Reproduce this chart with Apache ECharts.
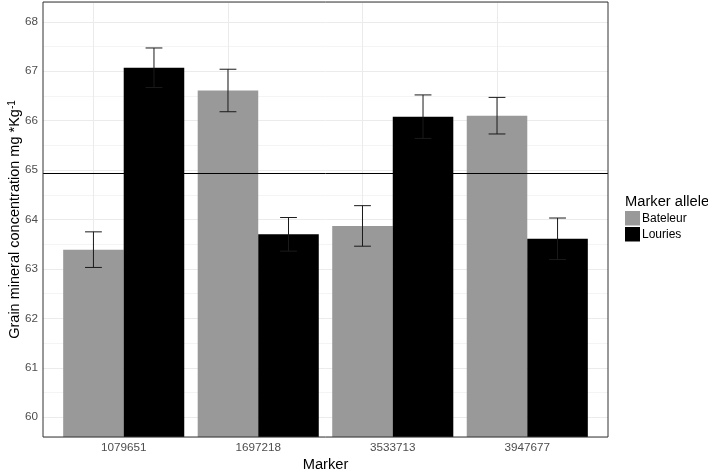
<!DOCTYPE html>
<html><head><meta charset="utf-8">
<script src="https://cdn.jsdelivr.net/npm/echarts@6/dist/echarts.min.js"></script>
<style>html,body{margin:0;padding:0;background:#fff}#c{width:708px;height:471px}</style>
</head><body><div id="c"></div>
<script>
// ---- data ----
const categories = ['1079651', '1697218', '3533713', '3947677'];
const seriesNames = ['Bateleur', 'Louries'];
const bateleurMean = [63.39, 66.61, 63.87, 66.10];
const louriesMean = [67.07, 63.70, 66.08, 63.61];
const bateleurSE = [0.36, 0.43, 0.41, 0.37];
const louriesSE = [0.40, 0.34, 0.44, 0.42];
const overallMean = 64.93;
const yRange = [59.6, 68.4];

// ---- layout / style ----
const FONT = '"Liberation Sans", Arial, sans-serif';
const PANEL = {left: 43, top: 2, width: 565, height: 435};
const EXPAND = 0.6;
const span = categories.length - 1 + 2 * EXPAND;
const unit = PANEL.width / span;
const INNER = {left: PANEL.left + (EXPAND - 0.5) * unit, top: PANEL.top, width: categories.length * unit, height: PANEL.height};
const colors = ['#999999', '#000000'];

function errData(means, ses) { return means.map((m, i) => [i + 1, m - ses[i], m + ses[i]]); }
function errRender(offset) {
  return function (params, api) {
    const x = api.value(0) + offset;
    const lo = api.coord([x, api.value(1)]);
    const hi = api.coord([x, api.value(2)]);
    const hw = api.size([0.0625, 0])[0];
    const style = {stroke: '#1a1a1a', lineWidth: 1, fill: null};
    return {type: 'group', children: [
      {type: 'line', shape: {x1: lo[0], y1: lo[1], x2: hi[0], y2: hi[1]}, style: style},
      {type: 'line', shape: {x1: hi[0] - hw, y1: hi[1], x2: hi[0] + hw, y2: hi[1]}, style: style},
      {type: 'line', shape: {x1: lo[0] - hw, y1: lo[1], x2: lo[0] + hw, y2: lo[1]}, style: style}
    ]};
  };
}

const chart = echarts.init(document.getElementById('c'), null, {renderer: 'canvas'});
chart.setOption({
  animation: false,
  backgroundColor: '#ffffff',
  textStyle: {fontFamily: FONT},
  title: {
    text: 'Marker allele', left: 625, top: 194, padding: 0,
    textStyle: {fontSize: 14.7, fontWeight: 'normal', color: '#000', fontFamily: FONT}
  },
  legend: {
    data: seriesNames, left: 625, top: 211, orient: 'vertical', padding: 0,
    itemWidth: 15, itemHeight: 14.5, itemGap: 1.5, icon: 'rect',
    textStyle: {fontSize: 12, color: '#000', fontFamily: FONT, padding: [0, 0, 0, -3]}
  },
  grid: [
    Object.assign({show: true, backgroundColor: '#fff', borderWidth: 0, outerBoundsMode: 'none', containLabel: false}, PANEL),
    Object.assign({show: false, outerBoundsMode: 'none', containLabel: false}, INNER),
    Object.assign({show: true, backgroundColor: 'transparent', borderColor: '#333333', borderWidth: 1, z: 10, outerBoundsMode: 'none', containLabel: false}, PANEL)
  ],
  xAxis: [
    {gridIndex: 0, type: 'value', min: 0.4, max: 4.6, show: false},
    {gridIndex: 1, type: 'category', data: categories,
      axisLine: {show: false}, axisTick: {show: false}, splitLine: {show: false},
      axisLabel: {fontSize: 11.7, color: '#4d4d4d', margin: 5, fontFamily: FONT},
      name: 'Marker', nameLocation: 'middle', nameGap: 20, nameMoveOverlap: false,
      nameTextStyle: {fontSize: 14.7, color: '#000', fontFamily: FONT}}
  ],
  yAxis: [
    {gridIndex: 0, type: 'value', min: yRange[0], max: yRange[1], splitNumber: 8,
      axisLine: {show: false}, axisTick: {show: false},
      axisLabel: {fontSize: 11.7, color: '#4d4d4d', margin: 5, fontFamily: FONT, showMinLabel: false, showMaxLabel: false},
      splitLine: {show: true, lineStyle: {color: '#ebebeb', width: 1}},
      minorTick: {show: false, splitNumber: 2},
      minorSplitLine: {show: true, lineStyle: {color: '#f4f4f4', width: 1}},
      name: 'Grain mineral concentration mg *Kg{sup|-1}', nameLocation: 'middle', nameRotate: 90, nameGap: 21,
      nameMoveOverlap: false,
      nameTextStyle: {fontSize: 14.5, color: '#000', fontFamily: FONT,
        rich: {sup: {fontSize: 10, verticalAlign: 'top', color: '#000', fontFamily: FONT}}}},
    {gridIndex: 1, type: 'value', min: yRange[0], max: yRange[1], show: false}
  ],
  series: [
    {name: seriesNames[0], type: 'bar', xAxisIndex: 1, yAxisIndex: 1, data: bateleurMean,
      barGap: '0%', barCategoryGap: '10%', itemStyle: {color: colors[0]}, clip: true,
      markLine: {silent: true, symbol: 'none', z: 1, animation: false, label: {show: false},
        lineStyle: {color: '#ebebeb', width: 1, type: 'solid'},
        data: categories.map(c => ({xAxis: c}))}},
    {name: seriesNames[1], type: 'bar', xAxisIndex: 1, yAxisIndex: 1, data: louriesMean,
      barGap: '0%', barCategoryGap: '10%', itemStyle: {color: colors[1]}, clip: true},
    {name: 'Bateleur SE', type: 'custom', xAxisIndex: 0, yAxisIndex: 0, z: 3,
      renderItem: errRender(-0.225), encode: {x: 0, y: [1, 2]}, data: errData(bateleurMean, bateleurSE),
      markLine: {silent: true, symbol: 'none', z: 5, animation: false, label: {show: false},
        lineStyle: {color: '#000', width: 1, type: 'solid'},
        data: [{yAxis: overallMean}]}},
    {name: 'Louries SE', type: 'custom', xAxisIndex: 0, yAxisIndex: 0, z: 3,
      renderItem: errRender(0.225), encode: {x: 0, y: [1, 2]}, data: errData(louriesMean, louriesSE)}
  ]
});
</script></body></html>
